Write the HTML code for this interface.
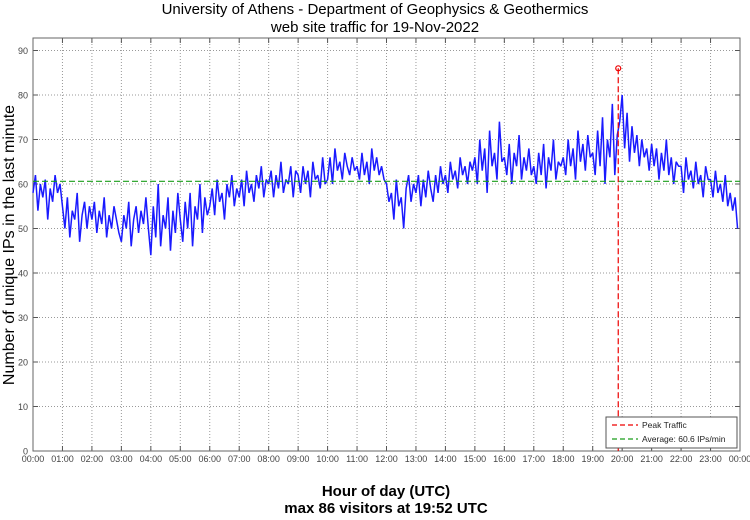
<!DOCTYPE html>
<html><head><meta charset="utf-8"><style>
body{margin:0;background:#fff;width:750px;height:515px;overflow:hidden;font-family:"Liberation Sans",sans-serif}
svg text{font-family:"Liberation Sans",sans-serif}
</style></head><body>
<svg id="chart" width="750" height="515">
<text x="375" y="14" text-anchor="middle" font-size="15">University of Athens - Department of Geophysics &amp; Geothermics</text>
<text x="375" y="32" text-anchor="middle" font-size="15">web site traffic for 19-Nov-2022</text>
<text x="386" y="496" text-anchor="middle" font-size="15" font-weight="bold">Hour of day (UTC)</text>
<text x="386" y="513" text-anchor="middle" font-size="15" font-weight="bold">max 86 visitors at 19:52 UTC</text>
<text transform="translate(14,245) rotate(-90)" text-anchor="middle" font-size="16">Number of unique IPs in the last minute</text>
<g id="grid"></g><g id="series"></g><g id="overlay"></g>
</svg>
<script>
const yTicks=[0,10,20,30,40,50,60,70,80,90];
const xTickLabels=["00:00","01:00","02:00","03:00","04:00","05:00","06:00","07:00","08:00","09:00","10:00","11:00","12:00","13:00","14:00","15:00","16:00","17:00","18:00","19:00","20:00","21:00","22:00","23:00","00:00"];
const traffic=[
58,62,54,60,57,61,52,59,56,62,58,60,
55,50,57,48,54,52,58,47,53,56,50,55,
52,56,49,54,51,57,48,53,50,55,52,49,
47,53,50,56,46,52,55,49,54,51,57,50,
44,55,48,60,46,53,50,57,45,54,49,58,
52,47,56,50,58,46,55,52,60,49,57,53,
55,59,53,61,56,58,52,60,57,62,55,59,
57,61,55,63,58,60,56,62,59,64,57,61,
60,63,57,62,59,65,58,61,60,64,57,63,
62,58,64,60,63,57,65,61,62,59,66,60,
61,66,60,68,63,65,61,67,64,62,66,63,
64,61,67,62,65,60,68,63,66,62,64,61,
60,56,58,52,61,55,57,50,59,62,56,60,
58,62,55,61,57,63,59,56,62,58,64,60,
62,58,65,61,63,59,66,62,64,60,65,63,
66,60,70,63,68,58,72,64,67,61,74,65,
66,62,69,60,67,64,71,61,66,63,68,62,
64,60,67,62,69,59,66,63,70,61,65,64,
66,62,70,64,68,61,72,65,69,63,71,66,
67,62,72,64,75,60,70,66,78,62,71,74,
80,68,76,65,73,67,71,64,70,66,68,63,
69,64,68,61,67,63,70,62,66,60,65,64,
64,58,66,61,63,59,65,60,62,57,64,61,
61,57,63,58,60,56,62,55,58,54,57,50
];
const average=60.6;
const peakMinute=1192;
const peakValue=86;
const X0=33,X1=740,Y0=451,YT=38;
const ppu=(451-50.5)/90;
function xs(min){return X0+(X1-X0)*min/1440;}
function ys(v){return Y0-v*ppu;}
const NS="http://www.w3.org/2000/svg";
function mk(tag,attrs,parent){const e=document.createElementNS(NS,tag);for(const k in attrs)e.setAttribute(k,attrs[k]);parent.appendChild(e);return e;}
const grid=document.getElementById('grid'),ser=document.getElementById('series'),ov=document.getElementById('overlay');
yTicks.forEach(v=>{
 const y=ys(v);
 if(v>0){const l=mk('line',{x1:X0,x2:X1,y1:y,y2:y,stroke:'#999','stroke-dasharray':'1,2','stroke-width':1},grid);
 
 }
 const t=mk('text',{x:X0-5,y:y+3.5,'text-anchor':'end','font-size':9,fill:'#444'},grid);
 t.textContent=v;
 
 
 mk('line',{x1:X0,x2:X0+5,y1:y,y2:y,stroke:'#555'},grid);
 mk('line',{x1:X1,x2:X1-5,y1:y,y2:y,stroke:'#555'},grid);
});
xTickLabels.forEach((lab,i)=>{
 const x=xs(i*60);
 if(i>0&&i<24){const l=mk('line',{x1:x,x2:x,y1:YT,y2:Y0,stroke:'#999','stroke-dasharray':'1,2'},grid);
 
 }
 mk('line',{x1:x,x2:x,y1:Y0,y2:Y0-5,stroke:'#555'},grid);
 mk('line',{x1:x,x2:x,y1:YT,y2:YT+5,stroke:'#555'},grid);
 const t=mk('text',{x:x,y:Y0+11,'text-anchor':'middle','font-size':9,fill:'#444'},grid);
 t.textContent=lab;
 
 
});
const frame=mk('rect',{x:X0,y:YT,width:X1-X0,height:Y0-YT,fill:'none',stroke:'#666'},grid);


const step=1440/traffic.length;
let d=traffic.map((v,i)=>(i?'L':'M')+xs(i*step).toFixed(2)+','+ys(v).toFixed(2)).join('');
const line=mk('path',{d:d,fill:'none',stroke:'#1a1aff','stroke-width':1.5,'stroke-linejoin':'bevel'},ser);


const avg=mk('line',{x1:X0,x2:X1,y1:ys(average),y2:ys(average),stroke:'#1a9e1a','stroke-width':1.2,'stroke-dasharray':'6,3'},ov);


const pk=mk('line',{x1:xs(peakMinute),x2:xs(peakMinute),y1:ys(peakValue),y2:Y0,stroke:'#e00','stroke-width':1.2,'stroke-dasharray':'6,3'},ov);


const pm=mk('circle',{cx:xs(peakMinute),cy:ys(peakValue),r:2.5,fill:'none',stroke:'#e00','stroke-width':1.2},ov);


const lg=mk('g',{},ov);


mk('rect',{x:606,y:417,width:131,height:31,fill:'#fff',stroke:'#555'},lg);
mk('line',{x1:612,x2:638,y1:425,y2:425,stroke:'#e00','stroke-dasharray':'5,3','stroke-width':1.2},lg);
mk('line',{x1:612,x2:638,y1:439,y2:439,stroke:'#1a9e1a','stroke-dasharray':'5,3','stroke-width':1.2},lg);
const t1=mk('text',{x:642,y:428,'font-size':8.5,fill:'#222'},lg);t1.textContent='Peak Traffic';


const t2=mk('text',{x:642,y:442,'font-size':8.5,fill:'#222'},lg);t2.textContent='Average: 60.6 IPs/min';


</script>
</body></html>
